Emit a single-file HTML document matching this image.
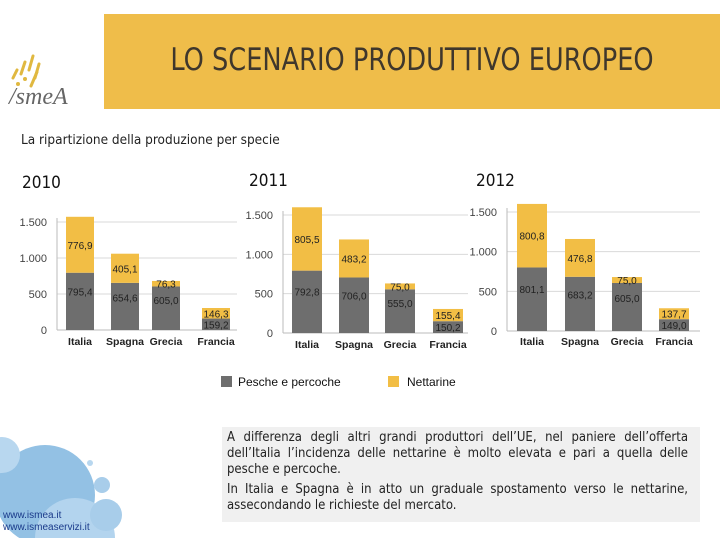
<!DOCTYPE html>
<html><head><meta charset="utf-8"><style>
html,body{margin:0;width:720px;height:540px;background:#fff;overflow:hidden;position:relative;font-family:"Liberation Sans",sans-serif}
.abs{position:absolute}
#header{left:104px;top:14px;width:616px;height:95px;background:#efbd4a}
#title{left:104px;top:42px;width:616px;text-align:center;font-size:31px;color:#3f372c;font-family:"DejaVu Sans Condensed","Liberation Sans",sans-serif;transform:scaleX(0.92);transform-origin:center}
#subtitle{left:21px;top:132px;font-size:13.5px;color:#222;font-family:"DejaVu Sans Condensed","Liberation Sans",sans-serif}
.yr{font-size:17px;color:#111;font-family:"DejaVu Sans Condensed","Liberation Sans",sans-serif}
#note{left:222px;top:427px;width:478px;height:95px;overflow:hidden;background:#f0f0f0;padding:3px 12px 0 5px;box-sizing:border-box;font-size:13px;line-height:16px;color:#222;text-align:justify;font-family:"DejaVu Sans Condensed","Liberation Sans",sans-serif}
#note p{margin:0}
.leg{font-size:12px;color:#111}
.web{font-size:10px;color:#1a3a8a;line-height:12px}
</style></head><body>
<svg class="abs" style="left:0;top:360px" width="140" height="178">
<circle cx="45" cy="135" r="50" fill="#93c1e4"/>
<circle cx="2" cy="95" r="18" fill="#b8d7ef"/>
<circle cx="75" cy="178" r="40" fill="#b3d4ee"/>
<circle cx="106" cy="155" r="16" fill="#a8cdea"/>
<circle cx="102" cy="125" r="8" fill="#a8cdea"/>
<circle cx="90" cy="103" r="3" fill="#b8d7ef"/>
</svg>
<div class="abs web" style="left:3px;top:510px">www.ismea.it<br>www.ismeaservizi.it</div>
<svg class="abs" style="left:5px;top:48px" width="96" height="62">
<g stroke="#e0b840" stroke-width="3" stroke-linecap="round"><line x1="8" y1="30" x2="12" y2="22"/><line x1="16" y1="26" x2="20" y2="14"/><line x1="24" y1="22" x2="28" y2="8"/><line x1="30" y1="30" x2="34" y2="16"/><line x1="26" y1="38" x2="32" y2="24"/></g>
<circle cx="13" cy="36" r="2" fill="#e0b840"/><circle cx="20" cy="31" r="2" fill="#e0b840"/>
<text x="4" y="56" font-size="24" fill="#666" font-family="Liberation Serif,serif" font-style="italic">/smeA</text>
</svg>
<div class="abs" id="header"></div>
<div class="abs" id="title">LO SCENARIO PRODUTTIVO EUROPEO</div>
<div class="abs" id="subtitle">La ripartizione della produzione per specie</div>
<div class="abs yr" style="left:22px;top:173px">2010</div>
<div class="abs yr" style="left:249px;top:171px">2011</div>
<div class="abs yr" style="left:476px;top:171px">2012</div>
<svg id="charts" class="abs" style="left:0;top:0" width="720" height="360"></svg>
<div class="abs" style="left:221px;top:376px;width:11px;height:11px;background:#6e6e6e"></div>
<div class="abs leg" style="left:238px;top:375px">Pesche e percoche</div>
<div class="abs" style="left:388px;top:376px;width:11px;height:11px;background:#f2be45"></div>
<div class="abs leg" style="left:407px;top:375px">Nettarine</div>
<div class="abs" id="note"><p>A differenza degli altri grandi produttori dell’UE, nel paniere dell’offerta dell’Italia l’incidenza delle nettarine è molto elevata e pari a quella delle pesche e percoche.</p><p style="margin-top:4px">In Italia e Spagna è in atto un graduale spostamento verso le nettarine, assecondando le richieste del mercato.</p></div>
<script>
const categories=["Italia","Spagna","Grecia","Francia"];
const pesche2010=[795.4,654.6,605.0,159.2];
const nett2010=[776.9,405.1,76.3,146.3];
const pesche2011=[792.8,706.0,555.0,150.2];
const nett2011=[805.5,483.2,75.0,155.4];
const pesche2012=[801.1,683.2,605.0,149.0];
const nett2012=[800.8,476.8,75.0,137.7];
const ticks=[0,500,1000,1500];
const tickLabels=["0","500","1.000","1.500"];
const NS="http://www.w3.org/2000/svg";
const svg=document.getElementById('charts');
function el(t,a,p){const e=document.createElementNS(NS,t);for(const k in a)e.setAttribute(k,a[k]);(p||svg).appendChild(e);return e;}
const layouts=[
 {year:"2010",p:pesche2010,n:nett2010,ax:57,x1:237,y0:330,y1500:222,bx:[66,111,152,202],bw:28,lx:47,cy:345},
 {year:"2011",p:pesche2011,n:nett2011,ax:283,x1:468,y0:333,y1500:215,bx:[292,339,385,433],bw:30,lx:273,cy:348},
 {year:"2012",p:pesche2012,n:nett2012,ax:507,x1:700,y0:331,y1500:212,bx:[517,565,612,659],bw:30,lx:497,cy:345}];
function fmt(v){return v.toFixed(1).replace('.',',');}
layouts.forEach(L=>{
 const g=el('g',{});
 
 
 const y=v=>L.y0-(v/1500)*(L.y0-L.y1500);
 ticks.forEach((t,i)=>{
  if(t>0){const gl=el('line',{x1:L.ax,x2:L.x1,y1:y(t),y2:y(t),stroke:'#d9d9d9','stroke-width':1},g);}
  const tl=el('text',{x:L.lx,y:y(t)+4,'text-anchor':'end','font-size':11,fill:'#444','font-family':'Liberation Sans,sans-serif'},g);
  tl.textContent=tickLabels[i];
  
  
 });
 el('line',{x1:L.ax,x2:L.ax,y1:L.y1500-4,y2:L.y0,stroke:'#bbb'},g);
 el('line',{x1:L.ax,x2:L.x1,y1:L.y0,y2:L.y0,stroke:'#bbb'},g);
 categories.forEach((c,i)=>{
  const x=L.bx[i],w=L.bw,pv=L.p[i],nv=L.n[i];
  const b1=el('rect',{x:x,y:y(pv),width:w,height:L.y0-y(pv),fill:'#6e6e6e'},g);
  
  
  const b2=el('rect',{x:x,y:y(pv+nv),width:w,height:y(pv)-y(pv+nv),fill:'#f2be45'},g);
  
  
  const small=pv<300;
  const lp=el('text',{x:x+w/2,y:small?y(pv)+(L.y0-y(pv))/2+4:y(pv)+(L.y0-y(pv))*0.4,'text-anchor':'middle','font-size':10,fill:'#222','font-family':'Liberation Sans,sans-serif'},g);
  lp.textContent=fmt(pv);
  
  
  const ln=el('text',{x:x+w/2,y:(y(pv+nv)+y(pv))/2+4,'text-anchor':'middle','font-size':10,fill:'#222','font-family':'Liberation Sans,sans-serif'},g);
  ln.textContent=fmt(nv);
  
  
  const cl=el('text',{x:x+w/2,y:L.cy,'text-anchor':'middle','font-size':10.5,'font-weight':'bold',fill:'#222','font-family':'Liberation Sans,sans-serif'},g);
  cl.textContent=c;
  
  
 });
});
</script>
</body></html>
